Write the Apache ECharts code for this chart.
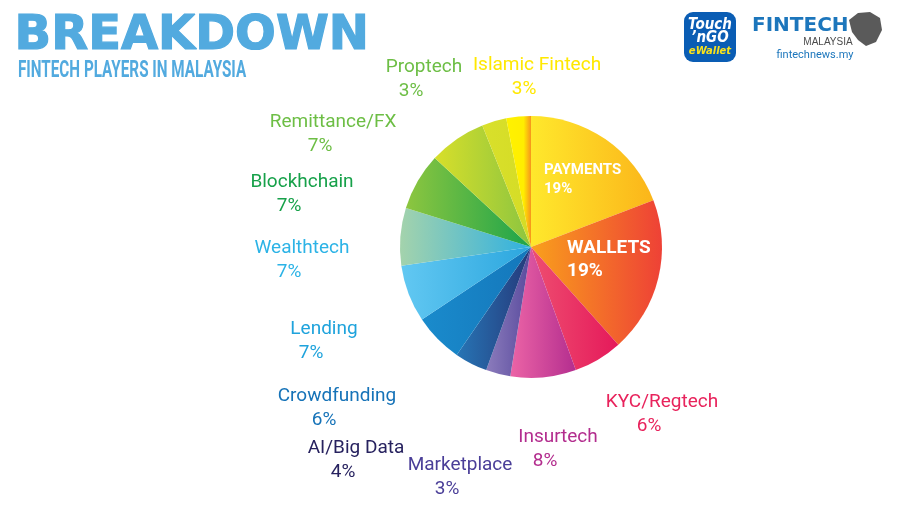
<!DOCTYPE html>
<html>
<head>
<meta charset="utf-8">
<script src="https://cdn.jsdelivr.net/npm/echarts@6/dist/echarts.min.js"></script>
<style>
  html, body { margin: 0; padding: 0; background: #ffffff; }
  #chart { width: 900px; height: 506px; }
</style>
</head>
<body>
<div id="chart"></div>
<script>
// slices, clockwise from 12 o'clock
const categories = ['PAYMENTS', 'WALLETS', 'KYC/Regtech', 'Insurtech', 'Marketplace', 'AI/Big Data',
    'Crowdfunding', 'Lending', 'Wealthtech', 'Blockhchain', 'Remittance/FX', 'Proptech', 'Islamic Fintech'];
const shares = [19, 19, 6, 8, 3, 4, 6, 7, 7, 7, 7, 3, 3];

// gradient stops per slice (left -> right)
const sliceColors = [
    ['#FFE82C', '#FBB51A'],
    ['#F9A01C', '#EE4136'],
    ['#EE4E70', '#E5195A'],
    ['#EC64A6', '#B42E8F'],
    ['#8C7CBC', '#584A9D'],
    ['#2775B5', '#25397A'],
    ['#1A8BCC', '#1477BB'],
    ['#62C8F2', '#2BA6DE'],
    ['#A4D3AC', '#2EB0E2'],
    ['#8DC63F', '#1CA44B'],
    ['#D8DF2A', '#8CC540'],
    ['#D9E02B', '#D4DC26'],
    ['#FFF200', '#F7941D']
];
const labelColors = ['#ffffff', '#ffffff', '#E8235C', '#B32D8E', '#4A3E98', '#27225F', '#1673B8',
    '#1FA3DC', '#2CB3E6', '#17A14A', '#6DBE45', '#6DBE45', '#FFE800'];

// label anchor: [x, y, align]
const labelPos = [
    [544, 180, 'left'], [567, 260, 'left'], [662, 414, 'center'], [558, 449, 'center'],
    [460, 477, 'center'], [356, 460, 'center'], [337, 408, 'center'], [324, 341, 'center'],
    [302, 260, 'center'], [302, 194, 'center'], [333, 134, 'center'], [424, 79, 'center'],
    [537, 77, 'center']
];

const chart = echarts.init(document.getElementById('chart'), null, { renderer: 'canvas' });

const pieData = categories.map((name, i) => {
    const c = sliceColors[i];
    const stops = i === 12
        ? [{ offset: 0, color: c[0] }, { offset: 0.7, color: '#FFEE00' }, { offset: 1, color: c[1] }]
        : [{ offset: 0, color: c[0] }, { offset: 1, color: c[1] }];
    const item = {
        name: name,
        value: shares[i],
        itemStyle: { color: { type: 'linear', x: 0, y: 0, x2: 1, y2: 0, colorStops: stops } }
    };
    if (i < 2) {
        const big = i === 1;
        item.label = {
            formatter: '{n|{b}}\n{p|{c}%}',
            rich: {
                n: { color: '#fff', fontFamily: 'Roboto', fontWeight: 'bold', fontSize: big ? 19 : 15, lineHeight: big ? 23 : 19 },
                p: { color: '#fff', fontFamily: 'Roboto', fontWeight: 'bold', fontSize: big ? 19 : 15, lineHeight: big ? 23 : 19 }
            }
        };
    } else {
        item.label = {
            rich: {
                n: { color: labelColors[i], fontFamily: 'Roboto', fontSize: 19, lineHeight: 24 },
                p: { color: labelColors[i], fontFamily: 'Roboto', fontSize: 19, lineHeight: 24, padding: [0, 26, 0, 0] }
            }
        };
    }
    return item;
});

const option = {
    backgroundColor: '#ffffff',
    animation: false,
    series: [{
        type: 'pie',
        center: [531, 247],
        radius: [0, 131],
        startAngle: 90,
        clockwise: true,
        avoidLabelOverlap: false,
        label: {
            show: true,
            position: 'outside',
            formatter: '{n|{b}}\n{p|{c}%}'
        },
        labelLine: { show: false },
        labelLayout: function (params) {
            const p = labelPos[params.dataIndex];
            return { x: p[0], y: p[1], align: p[2], verticalAlign: 'middle' };
        },
        itemStyle: { borderWidth: 0 },
        data: pieData
    }],
    graphic: [
        {
            type: 'text', left: 14, top: 12,
            style: { text: 'BREAKDOWN', fill: '#52AADF', stroke: '#52AADF', lineWidth: 1.2, font: 'bold 48px "DejaVu Sans"' }
        },
        {
            type: 'text', x: 18, y: 59, scaleX: 0.635,
            style: { text: 'FINTECH PLAYERS IN MALAYSIA', fill: '#52AADF', font: 'bold 24px Roboto' }
        },
        // Touch 'n Go eWallet badge
        {
            type: 'rect', shape: { x: 684, y: 12, width: 52, height: 50, r: 9 },
            style: { fill: '#0A5DB4' }
        },
        {
            type: 'text', x: 710, y: 25,
            style: { text: 'Touch', fill: '#fff', font: 'italic 900 15px "DejaVu Sans Condensed"', align: 'center', verticalAlign: 'middle' }
        },
        {
            type: 'text', x: 710, y: 38,
            style: { text: '\u2019nGO', fill: '#fff', font: 'italic 900 15px "DejaVu Sans Condensed"', align: 'center', verticalAlign: 'middle' }
        },
        {
            type: 'text', x: 710, y: 51,
            style: { text: 'eWallet', fill: '#F8E21C', font: 'italic bold 10px "DejaVu Sans"', align: 'center', verticalAlign: 'middle' }
        },
        // Fintech Malaysia logo
        {
            type: 'text', x: 752, y: 26,
            style: { text: 'FINTECH', fill: '#1C76BC', font: 'bold 20px "DejaVu Sans"', verticalAlign: 'middle' }
        },
        {
            type: 'polygon',
            shape: { points: [[849, 20], [858, 13], [870, 12], [880, 18], [882, 30], [876, 42], [866, 46], [858, 40], [852, 32]] },
            style: { fill: '#5A5A5A' }
        },
        {
            type: 'text', x: 828, y: 42,
            style: { text: 'MALAYSIA', fill: '#4D4D4D', font: '10px "Liberation Sans"', align: 'center', verticalAlign: 'middle' }
        },
        {
            type: 'text', x: 815, y: 55,
            style: { text: 'fintechnews.my', fill: '#1C76BC', font: '11px Roboto', align: 'center', verticalAlign: 'middle' }
        }
    ]
};

chart.setOption(option);
</script>
</body>
</html>
